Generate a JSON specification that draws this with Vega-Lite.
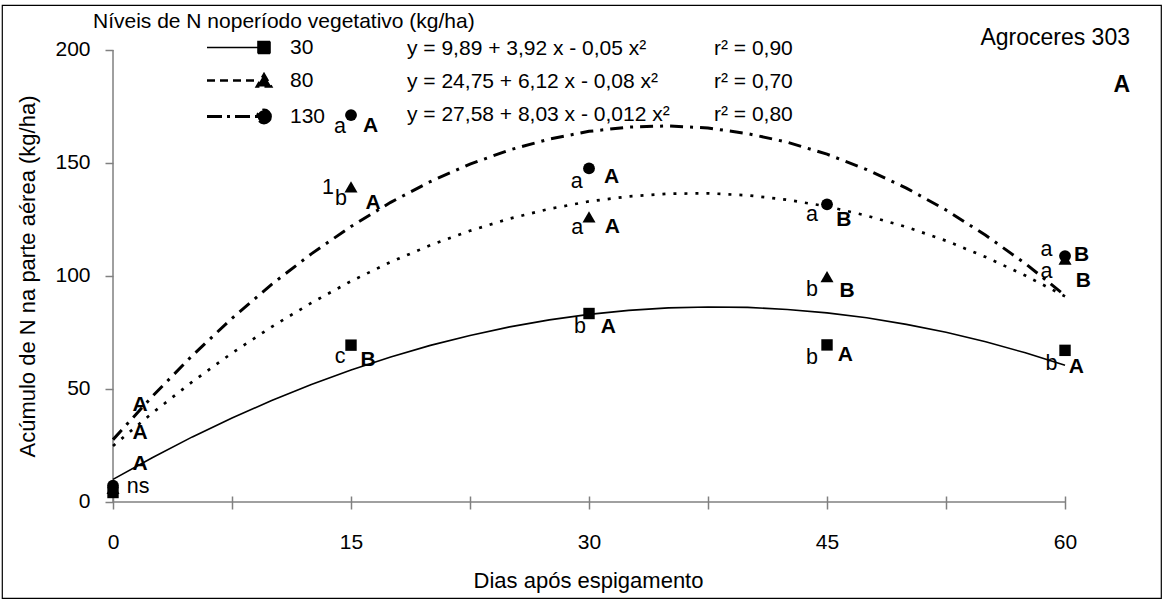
{
  "$schema": "https://vega.github.io/schema/vega-lite/v6.json",
  "width": 1159,
  "height": 593,
  "autosize": {"type": "none"},
  "padding": {"left": 2, "top": 5, "right": 4, "bottom": 5},
  "background": "white",
  "config": {
    "font": "Liberation Sans",
    "view": {"stroke": "black", "strokeWidth": 1.2},
    "axis": {
      "labelFont": "Liberation Sans",
      "titleFont": "Liberation Sans",
      "labelColor": "black",
      "titleColor": "black",
      "titleFontWeight": "normal",
      "grid": false,
      "domain": false,
      "tickColor": "#808080",
      "tickWidth": 1.5,
      "labelFlush": false,
      "labelOverlap": false
    },
    "legend": {
      "labelFont": "Liberation Sans",
      "titleFont": "Liberation Sans",
      "labelColor": "black",
      "titleColor": "black",
      "labelFontSize": 21,
      "titleFontSize": 21,
      "titleFontWeight": "normal",
      "padding": 0,
      "rowPadding": 11,
      "labelLimit": 600,
      "titleLimit": 600
    }
  },
  "title": {
    "text": "Agroceres 303",
    "subtitle": "A",
    "anchor": "end",
    "frame": "group",
    "orient": "top",
    "offset": -92,
    "dx": -31,
    "font": "Liberation Sans",
    "fontSize": 23,
    "fontWeight": "normal",
    "color": "black",
    "subtitleFont": "Liberation Sans",
    "subtitleFontSize": 23,
    "subtitleFontWeight": "bold",
    "subtitleColor": "black",
    "subtitlePadding": 24
  },
  "datasets": {
    "curvas": [
      {"nivel": "30", "dia": 0, "n": 10.0}, {"nivel": "30", "dia": 2.5, "n": 19.7}, {"nivel": "30", "dia": 5, "n": 28.8},
      {"nivel": "30", "dia": 7.5, "n": 37.2}, {"nivel": "30", "dia": 10, "n": 44.9}, {"nivel": "30", "dia": 12.5, "n": 52.0},
      {"nivel": "30", "dia": 15, "n": 58.4}, {"nivel": "30", "dia": 17.5, "n": 64.2}, {"nivel": "30", "dia": 20, "n": 69.3},
      {"nivel": "30", "dia": 22.5, "n": 73.7}, {"nivel": "30", "dia": 25, "n": 77.5}, {"nivel": "30", "dia": 27.5, "n": 80.6},
      {"nivel": "30", "dia": 30, "n": 83.0}, {"nivel": "30", "dia": 32.5, "n": 84.8}, {"nivel": "30", "dia": 35, "n": 85.9},
      {"nivel": "30", "dia": 37.5, "n": 86.3}, {"nivel": "30", "dia": 40, "n": 86.1}, {"nivel": "30", "dia": 42.5, "n": 85.2},
      {"nivel": "30", "dia": 45, "n": 83.7}, {"nivel": "30", "dia": 47.5, "n": 81.5}, {"nivel": "30", "dia": 50, "n": 78.6},
      {"nivel": "30", "dia": 52.5, "n": 75.1}, {"nivel": "30", "dia": 55, "n": 70.9}, {"nivel": "30", "dia": 57.5, "n": 66.0},
      {"nivel": "30", "dia": 60, "n": 60.5},
      {"nivel": "80", "dia": 0, "n": 24.8}, {"nivel": "80", "dia": 2.5, "n": 39.5}, {"nivel": "80", "dia": 5, "n": 53.2},
      {"nivel": "80", "dia": 7.5, "n": 65.9}, {"nivel": "80", "dia": 10, "n": 77.5}, {"nivel": "80", "dia": 12.5, "n": 88.1},
      {"nivel": "80", "dia": 15, "n": 97.7}, {"nivel": "80", "dia": 17.5, "n": 106.2}, {"nivel": "80", "dia": 20, "n": 113.6},
      {"nivel": "80", "dia": 22.5, "n": 120.0}, {"nivel": "80", "dia": 25, "n": 125.4}, {"nivel": "80", "dia": 27.5, "n": 129.7},
      {"nivel": "80", "dia": 30, "n": 133.0}, {"nivel": "80", "dia": 32.5, "n": 135.2}, {"nivel": "80", "dia": 35, "n": 136.4},
      {"nivel": "80", "dia": 37.5, "n": 136.6}, {"nivel": "80", "dia": 40, "n": 135.7}, {"nivel": "80", "dia": 42.5, "n": 133.7},
      {"nivel": "80", "dia": 45, "n": 130.8}, {"nivel": "80", "dia": 47.5, "n": 126.7}, {"nivel": "80", "dia": 50, "n": 121.7},
      {"nivel": "80", "dia": 52.5, "n": 115.6}, {"nivel": "80", "dia": 55, "n": 108.4}, {"nivel": "80", "dia": 57.5, "n": 100.2},
      {"nivel": "80", "dia": 60, "n": 91.0},
      {"nivel": "130", "dia": 0, "n": 27.6}, {"nivel": "130", "dia": 2.5, "n": 46.9}, {"nivel": "130", "dia": 5, "n": 64.8},
      {"nivel": "130", "dia": 7.5, "n": 81.3}, {"nivel": "130", "dia": 10, "n": 96.3}, {"nivel": "130", "dia": 12.5, "n": 109.8},
      {"nivel": "130", "dia": 15, "n": 121.9}, {"nivel": "130", "dia": 17.5, "n": 132.6}, {"nivel": "130", "dia": 20, "n": 141.8},
      {"nivel": "130", "dia": 22.5, "n": 149.5}, {"nivel": "130", "dia": 25, "n": 155.8}, {"nivel": "130", "dia": 27.5, "n": 160.6},
      {"nivel": "130", "dia": 30, "n": 164.0}, {"nivel": "130", "dia": 32.5, "n": 165.9}, {"nivel": "130", "dia": 35, "n": 166.4},
      {"nivel": "130", "dia": 37.5, "n": 165.5}, {"nivel": "130", "dia": 40, "n": 163.0}, {"nivel": "130", "dia": 42.5, "n": 159.2},
      {"nivel": "130", "dia": 45, "n": 153.9}, {"nivel": "130", "dia": 47.5, "n": 147.1}, {"nivel": "130", "dia": 50, "n": 138.9},
      {"nivel": "130", "dia": 52.5, "n": 129.2}, {"nivel": "130", "dia": 55, "n": 118.0}, {"nivel": "130", "dia": 57.5, "n": 105.5},
      {"nivel": "130", "dia": 60, "n": 91.4}
    ],
    "medias": [
      {"nivel": "30", "dia": 0, "n": 4.2}, {"nivel": "30", "dia": 15, "n": 69.4}, {"nivel": "30", "dia": 30, "n": 83.4},
      {"nivel": "30", "dia": 45, "n": 69.5}, {"nivel": "30", "dia": 60, "n": 67.1},
      {"nivel": "80", "dia": 0, "n": 6.0}, {"nivel": "80", "dia": 15, "n": 139.4}, {"nivel": "80", "dia": 30, "n": 126.2},
      {"nivel": "80", "dia": 45, "n": 99.7}, {"nivel": "80", "dia": 60, "n": 107.5},
      {"nivel": "130", "dia": 0, "n": 7.2}, {"nivel": "130", "dia": 15, "n": 171.2}, {"nivel": "130", "dia": 30, "n": 147.6},
      {"nivel": "130", "dia": 45, "n": 131.7}, {"nivel": "130", "dia": 60, "n": 108.8}
    ],
    "letras": [
      {"dia": 14.31, "n": 165.9, "texto": "a", "tipo": "nivel"},
      {"dia": 14.37, "n": 134.1, "texto": "b", "tipo": "nivel"},
      {"dia": 13.55, "n": 138.8, "texto": "1", "tipo": "nota"},
      {"dia": 14.31, "n": 64.3, "texto": "c", "tipo": "nivel"},
      {"dia": 29.22, "n": 141.7, "texto": "a", "tipo": "nivel"},
      {"dia": 29.26, "n": 121.1, "texto": "a", "tipo": "nivel"},
      {"dia": 29.43, "n": 77.6, "texto": "b", "tipo": "nivel"},
      {"dia": 44.05, "n": 126.9, "texto": "a", "tipo": "nivel"},
      {"dia": 44.05, "n": 93.8, "texto": "b", "tipo": "nivel"},
      {"dia": 44.05, "n": 63.9, "texto": "b", "tipo": "nivel"},
      {"dia": 58.83, "n": 111.3, "texto": "a", "tipo": "nivel"},
      {"dia": 58.83, "n": 101.7, "texto": "a", "tipo": "nivel"},
      {"dia": 59.14, "n": 61.2, "texto": "b", "tipo": "nivel"},
      {"dia": 1.59, "n": 6.8, "texto": "ns", "tipo": "nivel"},
      {"dia": 16.24, "n": 166.5, "texto": "A", "tipo": "epoca"},
      {"dia": 16.39, "n": 132.5, "texto": "A", "tipo": "epoca"},
      {"dia": 16.07, "n": 62.8, "texto": "B", "tipo": "epoca"},
      {"dia": 31.43, "n": 143.7, "texto": "A", "tipo": "epoca"},
      {"dia": 31.47, "n": 121.5, "texto": "A", "tipo": "epoca"},
      {"dia": 31.22, "n": 77.6, "texto": "A", "tipo": "epoca"},
      {"dia": 46.06, "n": 124.6, "texto": "B", "tipo": "epoca"},
      {"dia": 46.26, "n": 93.5, "texto": "B", "tipo": "epoca"},
      {"dia": 46.16, "n": 65.0, "texto": "A", "tipo": "epoca"},
      {"dia": 61.05, "n": 109.5, "texto": "B", "tipo": "epoca"},
      {"dia": 61.15, "n": 98.0, "texto": "B", "tipo": "epoca"},
      {"dia": 60.72, "n": 59.7, "texto": "A", "tipo": "epoca"},
      {"dia": 1.70, "n": 42.9, "texto": "A", "tipo": "epoca"},
      {"dia": 1.70, "n": 30.4, "texto": "A", "tipo": "epoca"},
      {"dia": 1.70, "n": 17.0, "texto": "A", "tipo": "epoca"}
    ],
    "niveis": [
      {"nivel": "30", "equacao": "y = 9,89 + 3,92 x - 0,05 x²", "r2": "r² = 0,90"},
      {"nivel": "80", "equacao": "y = 24,75 + 6,12 x - 0,08 x²", "r2": "r² = 0,70"},
      {"nivel": "130", "equacao": "y = 27,58 + 8,03 x - 0,012 x²", "r2": "r² = 0,80"}
    ]
  },
  "layer": [
    {
      "data": {"values": [{}]},
      "mark": {"type": "rule", "color": "#808080", "strokeWidth": 1.5},
      "encoding": {
        "x": {
          "datum": 0,
          "type": "quantitative",
          "scale": {"domain": [-6.996, 66.049], "nice": false, "zero": false},
          "axis": {
            "title": "Dias após espigamento",
            "orient": "bottom",
            "offset": -102,
            "values": [0, 7.5, 15, 22.5, 30, 37.5, 45, 52.5, 60],
            "labelExpr": "datum.value % 15 === 0 ? datum.label : ''",
            "tickSize": 13,
            "labelFontSize": 21,
            "labelPadding": 33,
            "labelBaseline": "middle",
            "titleFontSize": 22,
            "titleX": 586,
            "titleY": 84,
            "titleBaseline": "middle",
            "titleAlign": "center"
          }
        },
        "x2": {"datum": 60},
        "y": {
          "datum": 0,
          "type": "quantitative",
          "scale": {"domain": [-42.48, 219.91], "nice": false, "zero": false},
          "axis": {
            "title": "Acúmulo de N na parte aérea (kg/ha)",
            "orient": "left",
            "offset": -111,
            "values": [0, 50, 100, 150, 200],
            "tickSize": 8,
            "labelFontSize": 21,
            "labelPadding": 15,
            "titleFontSize": 22,
            "titleAngle": 270,
            "titleX": -86,
            "titleY": 271,
            "titleBaseline": "middle",
            "titleAlign": "center"
          }
        }
      }
    },
    {
      "data": {"values": [{}]},
      "mark": {"type": "rule", "color": "#808080", "strokeWidth": 1.5},
      "encoding": {
        "x": {"datum": 0, "type": "quantitative"},
        "y": {"datum": 0, "type": "quantitative"},
        "y2": {"datum": 200}
      }
    },
    {
      "data": {"name": "curvas"},
      "transform": [{"filter": "datum.nivel === '30'"}],
      "mark": {"type": "line", "color": "black", "strokeWidth": 1.6},
      "encoding": {
        "x": {"field": "dia", "type": "quantitative"},
        "y": {"field": "n", "type": "quantitative"}
      }
    },
    {
      "data": {"name": "curvas"},
      "transform": [{"filter": "datum.nivel === '80'"}],
      "mark": {"type": "line", "color": "black", "strokeWidth": 2.7, "strokeDash": [3, 8]},
      "encoding": {
        "x": {"field": "dia", "type": "quantitative"},
        "y": {"field": "n", "type": "quantitative"}
      }
    },
    {
      "data": {"name": "curvas"},
      "transform": [{"filter": "datum.nivel === '130'"}],
      "mark": {"type": "line", "color": "black", "strokeWidth": 3, "strokeDash": [13, 7, 3, 7]},
      "encoding": {
        "x": {"field": "dia", "type": "quantitative"},
        "y": {"field": "n", "type": "quantitative"}
      }
    },
    {
      "data": {"name": "medias"},
      "transform": [{"filter": "datum.nivel === '30'"}],
      "mark": {"type": "point", "shape": "square", "filled": true, "color": "black", "size": 130, "opacity": 1},
      "encoding": {
        "x": {"field": "dia", "type": "quantitative"},
        "y": {"field": "n", "type": "quantitative"}
      }
    },
    {
      "data": {"name": "medias"},
      "transform": [{"filter": "datum.nivel === '80'"}],
      "mark": {"type": "point", "shape": "triangle-up", "filled": true, "color": "black", "size": 170, "opacity": 1},
      "encoding": {
        "x": {"field": "dia", "type": "quantitative"},
        "y": {"field": "n", "type": "quantitative"}
      }
    },
    {
      "data": {"name": "medias"},
      "transform": [{"filter": "datum.nivel === '130'"}],
      "mark": {"type": "point", "shape": "circle", "filled": true, "color": "black", "size": 140, "opacity": 1},
      "encoding": {
        "x": {"field": "dia", "type": "quantitative"},
        "y": {"field": "n", "type": "quantitative"}
      }
    },
    {
      "data": {"name": "letras"},
      "transform": [{"filter": "datum.tipo !== 'epoca'"}],
      "mark": {"type": "text", "font": "Liberation Sans", "fontSize": 21.5, "color": "black", "align": "center", "baseline": "middle"},
      "encoding": {
        "x": {"field": "dia", "type": "quantitative"},
        "y": {"field": "n", "type": "quantitative"},
        "text": {"field": "texto"}
      }
    },
    {
      "data": {"name": "letras"},
      "transform": [{"filter": "datum.tipo === 'epoca'"}],
      "mark": {"type": "text", "font": "Liberation Sans", "fontSize": 21, "fontWeight": "bold", "color": "black", "align": "center", "baseline": "middle"},
      "encoding": {
        "x": {"field": "dia", "type": "quantitative"},
        "y": {"field": "n", "type": "quantitative"},
        "text": {"field": "texto"}
      }
    },
    {
      "data": {"name": "niveis"},
      "transform": [{"filter": "false"}],
      "mark": {"type": "point", "filled": true, "color": "black"},
      "encoding": {
        "shape": {
          "field": "nivel",
          "type": "nominal",
          "scale": {
            "domain": ["30", "80", "130"],
            "range": [
              "M-1.75,0 M17.25,0 L25.9,0 M25.75,-1 L27.75,-1 L27.75,1 L25.75,1 Z",
              "M-1.75,0 M17.25,0 L25.9,0 M26.75,-1.05 L27.95,1 L25.55,1 Z",
              "M-1.75,0 M17.25,0 L25.9,0 M27.8,0 A1.05,1.05 0 1,1 25.7,0 A1.05,1.05 0 1,1 27.8,0 Z"
            ]
          },
          "legend": {
            "title": "Níveis de N noperíodo vegetativo (kg/ha)",
            "orient": "none",
            "legendX": 91,
            "legendY": 6,
            "titlePadding": 5,
            "labelOffset": 176,
            "symbolSize": 144,
            "symbolFillColor": "black",
            "symbolStrokeColor": "black",
            "symbolOpacity": 1
          }
        },
        "strokeDash": {
          "field": "nivel",
          "type": "nominal",
          "scale": {"domain": ["30", "80", "130"], "range": [[1, 0], [8, 5], [15, 5, 3, 5]]},
          "legend": {
            "title": "Níveis de N noperíodo vegetativo (kg/ha)",
            "orient": "none",
            "legendX": 91,
            "legendY": 6,
            "titlePadding": 5,
            "labelOffset": 176,
            "symbolSize": 144,
            "symbolFillColor": "black",
            "symbolStrokeColor": "black",
            "symbolOpacity": 1
          }
        },
        "strokeWidth": {
          "field": "nivel",
          "type": "ordinal",
          "scale": {"domain": ["30", "80", "130"], "range": [1.6, 3.2]},
          "legend": {
            "title": "Níveis de N noperíodo vegetativo (kg/ha)",
            "orient": "none",
            "legendX": 91,
            "legendY": 6,
            "titlePadding": 5,
            "labelOffset": 176,
            "symbolSize": 144,
            "symbolFillColor": "black",
            "symbolStrokeColor": "black",
            "symbolOpacity": 1
          }
        },
        "fill": {
          "field": "equacao",
          "type": "nominal",
          "scale": {
            "domain": ["y = 9,89 + 3,92 x - 0,05 x²", "y = 24,75 + 6,12 x - 0,08 x²", "y = 27,58 + 8,03 x - 0,012 x²"],
            "range": ["black", "black", "black"]
          },
          "legend": {
            "title": null,
            "orient": "none",
            "legendX": 394,
            "legendY": 33,
            "labelOffset": -10,
            "symbolSize": 0,
            "symbolStrokeWidth": 0,
            "symbolOpacity": 0
          }
        },
        "stroke": {
          "field": "r2",
          "type": "nominal",
          "scale": {
            "domain": ["r² = 0,90", "r² = 0,70", "r² = 0,80"],
            "range": ["black", "black", "black"]
          },
          "legend": {
            "title": null,
            "orient": "none",
            "legendX": 701,
            "legendY": 33,
            "labelOffset": -10,
            "symbolSize": 0,
            "symbolStrokeWidth": 0,
            "symbolOpacity": 0
          }
        }
      }
    }
  ]
}
